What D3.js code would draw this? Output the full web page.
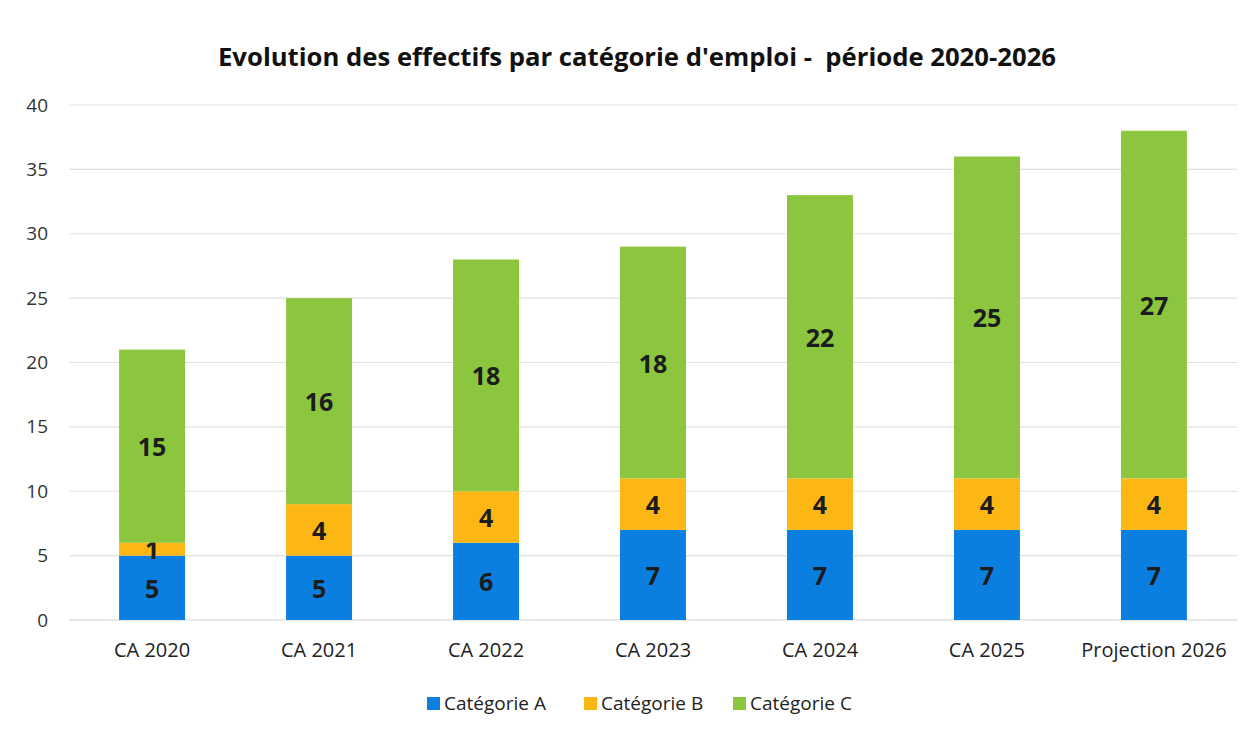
<!DOCTYPE html>
<html>
<head>
<meta charset="utf-8">
<script src="https://cdn.jsdelivr.net/npm/d3@7"></script>
<style>
	body { margin: 0; background: #fff; }
	text { font-family: 'Open Sans', 'Noto Sans', sans-serif; }
</style>
</head>
<body>
<div id="chart"></div>
<script>
// data
const categories = [ 'CA 2020', 'CA 2021', 'CA 2022', 'CA 2023', 'CA 2024', 'CA 2025', 'Projection 2026' ];
const catA = [ 5, 5, 6, 7, 7, 7, 7 ];
const catB = [ 1, 4, 4, 4, 4, 4, 4 ];
const catC = [ 15, 16, 18, 18, 22, 25, 27 ];
const seriesNames = [ 'Catégorie A', 'Catégorie B', 'Catégorie C' ];
const seriesColors = [ '#0b7fdf', '#fcb715', '#8cc63f' ];
const yTicks = [ 0, 5, 10, 15, 20, 25, 30, 35, 40 ];
const title = "Evolution des effectifs par catégorie d'emploi -  période 2020-2026";

const width = 1259;
const height = 730;
const plot = { left: 69, right: 1237, top: 105, bottom: 620 };

const svg = d3.select('#chart').append('svg').attr('width', width).attr('height', height);

const rows = categories.map((c, i) => ({ cat: c, A: catA[i], B: catB[i], C: catC[i] }));
const stack = d3.stack().keys([ 'A', 'B', 'C' ])(rows);

const x = d3.scaleBand().domain(categories).range([ plot.left, plot.right ]).paddingInner(0.605).paddingOuter(0.3);
const y = d3.scaleLinear().domain([ 0, 40 ]).range([ plot.bottom, plot.top ]);

// title
svg
	.append('text')
	.attr('x', 637)
	.attr('y', 66)
	.attr('text-anchor', 'middle')
	.style('font-size', '25.7px')
	.style('font-weight', 'bold')
	.style('white-space', 'pre')
	.attr('fill', '#111')
	.text(title);

// gridlines
svg
	.append('g')
	.selectAll('line')
	.data(yTicks)
	.enter()
	.append('line')
	.attr('x1', plot.left)
	.attr('x2', plot.right)
	.attr('y1', (d) => y(d))
	.attr('y2', (d) => y(d))
	.attr('stroke', (d) => (d === 0 ? '#d0d0d0' : '#e0e0e0'))
	.attr('stroke-width', 1.2);

// y axis
const yAxis = svg
	.append('g')
	.attr('transform', 'translate(' + 48 + ',0)')
	.call(d3.axisLeft(y).tickValues(yTicks).tickSize(0).tickPadding(0));
yAxis.select('.domain').remove();
yAxis.selectAll('text').style('font-size', '19px').attr('fill', '#333').attr('font-family', "'Open Sans', sans-serif");

// x axis
const xAxis = svg
	.append('g')
	.attr('transform', 'translate(0,' + plot.bottom + ')')
	.call(d3.axisBottom(x).tickSize(0).tickPadding(23));
xAxis.select('.domain').remove();
xAxis.selectAll('text').style('font-size', '20px').attr('fill', '#222').attr('font-family', "'Open Sans', sans-serif");

// bars
const layers = svg
	.selectAll('.layer')
	.data(stack)
	.enter()
	.append('g')
	.attr('class', 'layer')
	.attr('fill', (d, i) => seriesColors[i]);

layers
	.selectAll('rect')
	.data((d) => d)
	.enter()
	.append('rect')
	.attr('x', (d) => x(d.data.cat))
	.attr('width', x.bandwidth())
	.attr('y', (d) => y(d[1]))
	.attr('height', (d) => y(d[0]) - y(d[1]));

// data labels
layers
	.selectAll('.lbl')
	.data((d) => d)
	.enter()
	.append('text')
	.attr('class', 'lbl')
	.attr('x', (d) => x(d.data.cat) + x.bandwidth() / 2)
	.attr('y', (d) => (y(d[0]) + y(d[1])) / 2)
	.attr('dy', '0.4em')
	.attr('text-anchor', 'middle')
	.style('font-size', '25px')
	.style('font-weight', 'bold')
	.attr('fill', '#1c1c1c')
	.text((d) => d[1] - d[0]);

// legend
const legendX = [ 427, 584, 733 ];
const legend = svg
	.selectAll('.legend')
	.data(seriesNames)
	.enter()
	.append('g')
	.attr('class', 'legend')
	.attr('transform', (d, i) => 'translate(' + legendX[i] + ',703)');

legend.append('rect').attr('x', 0).attr('y', -6).attr('width', 13).attr('height', 13).attr('fill', (d, i) => seriesColors[i]);
legend
	.append('text')
	.attr('x', 17)
	.attr('y', 0)
	.attr('dy', '0.35em')
	.style('font-size', '19px')
	.attr('fill', '#222')
	.text((d) => d);
</script>
</body>
</html>
